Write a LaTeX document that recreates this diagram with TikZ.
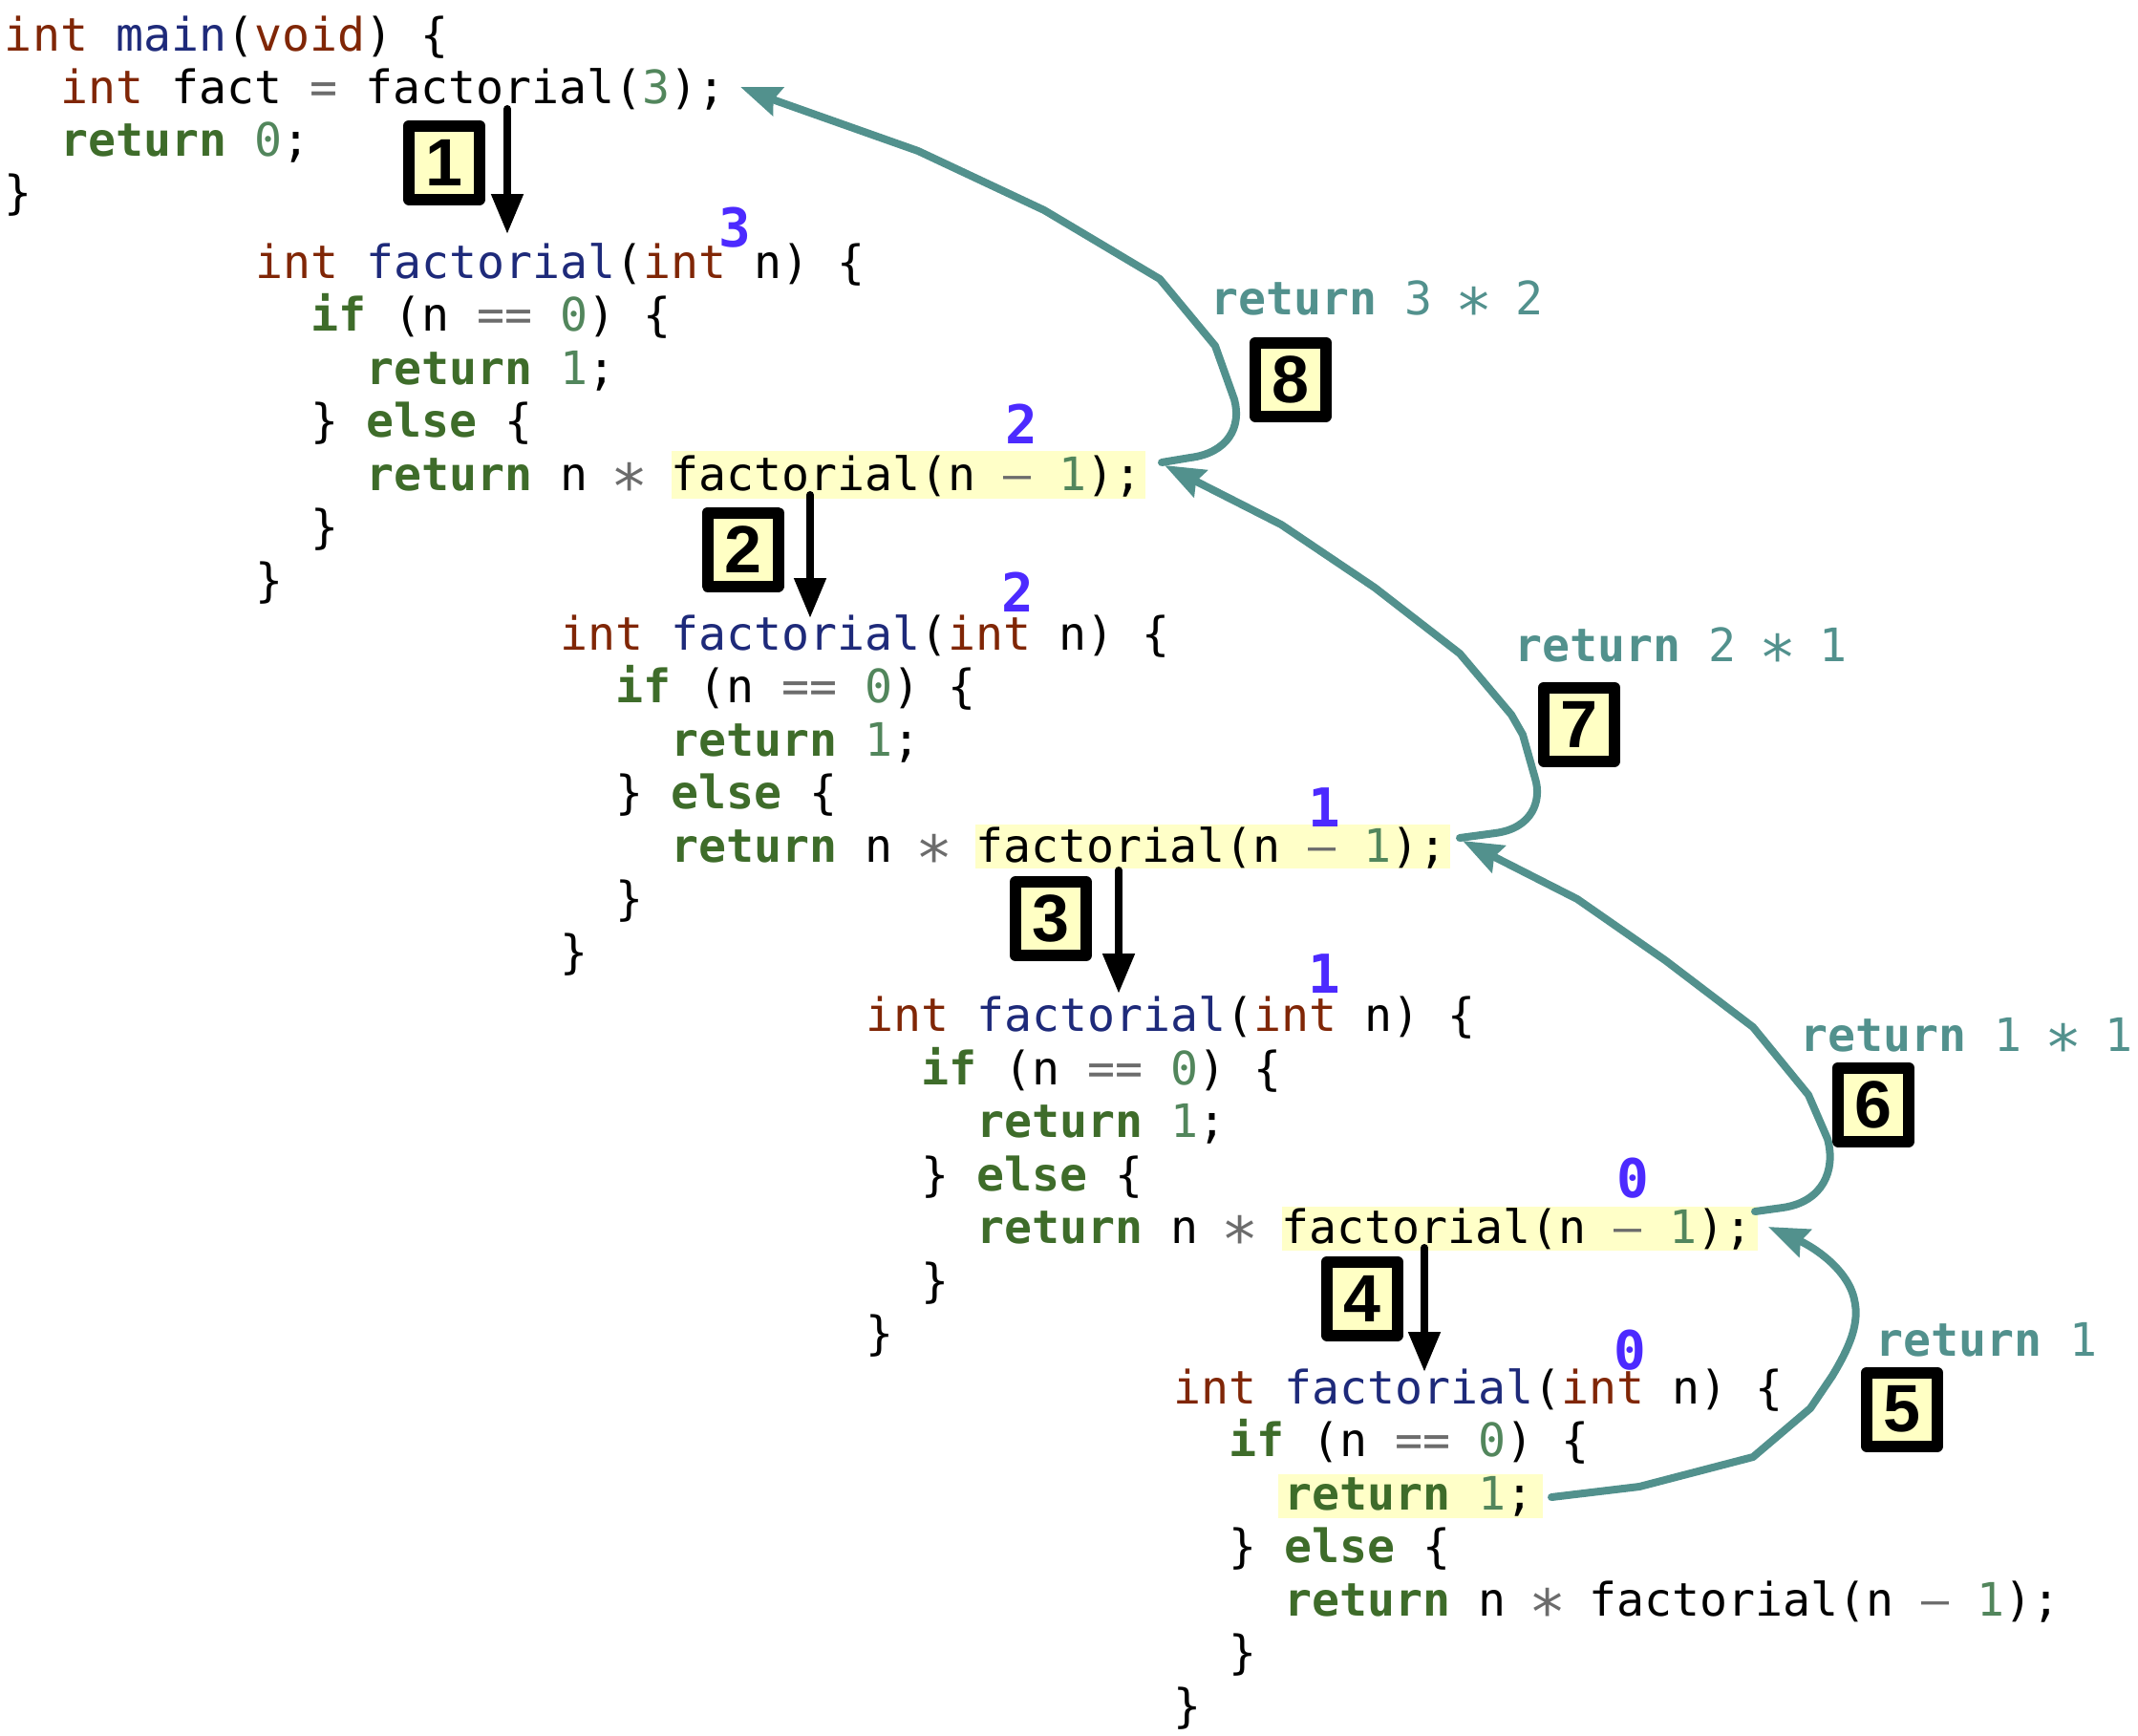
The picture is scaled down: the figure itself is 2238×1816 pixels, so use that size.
\documentclass[tikz,border=0pt]{standalone}
\usepackage{fontspec}
\usetikzlibrary{arrows.meta}
\newfontfamily\codefont{DejaVu Sans Mono}
\newfontfamily\boxfont{Liberation Sans}
\definecolor{cType}{RGB}{128,38,6}
\definecolor{cFn}{RGB}{30,42,122}
\definecolor{cKw}{RGB}{62,108,42}
\definecolor{cNum}{RGB}{82,134,92}
\definecolor{cOp}{RGB}{108,108,108}
\definecolor{cTeal}{RGB}{82,145,141}
\definecolor{cLbl}{RGB}{76,42,255}
\definecolor{cHi}{RGB}{255,255,200}
\definecolor{cBox}{RGB}{255,255,196}
\newcommand\Ty[1]{\textcolor{cType}{#1}}
\newcommand\Fn[1]{\textcolor{cFn}{#1}}
\newcommand\Kw[1]{\textcolor{cKw}{\bfseries #1}}
\newcommand\Nm[1]{\textcolor{cNum}{#1}}
\newcommand\Op[1]{\textcolor{cOp}{#1}}
\newcommand\Ast{\makebox[0.60205em]{\raisebox{-0.13em}{\scalebox{1.35}{∗}}}}
\newcommand\codesize{\fontsize{48.2pt}{55.5pt}\selectfont}
\newcommand\fblock[3]{%
  \node[code] (#1a) at (#2,#3) {\Ty{int}\ \Fn{factorial}(\Ty{int}\ n)\ \{};
  \node[code] (#1b) at ({#2+58},{#3+55.5}) {\Kw{if}\ (n\ \Op{==}\ \Nm{0})\ \{};
  \node[code] (#1c) at ({#2+116},{#3+111}) {\Kw{return}\ \Nm{1};};
  \node[code] (#1d) at ({#2+58},{#3+166.5}) {\}\ \Kw{else}\ \{};
  \node[code] (#1e) at ({#2+116},{#3+222}) {\Kw{return}\ n\ \Op{\Ast}\ factorial(n\ \Op{–}\ \Nm{1});};
  \node[code] (#1f) at ({#2+58},{#3+277.5}) {\}};
  \node[code] (#1g) at (#2,{#3+333}) {\}};
}
\tikzset{
  code/.style={anchor=base west, inner sep=0pt, outer sep=0pt, font=\codefont\codesize},
  lbl/.style={anchor=base, inner sep=0pt, text=cLbl, font=\codefont\bfseries\fontsize{56pt}{60pt}\selectfont},
  retlbl/.style={anchor=base west, inner sep=0pt, text=cTeal, font=\codefont\codesize},
  numbox/.style={draw=black, line width=12pt, line join=round, fill=cBox, minimum width=74pt, minimum height=77pt, inner sep=0pt, font=\boxfont\bfseries\fontsize{70pt}{70pt}\selectfont},
  callarrow/.style={draw=black, line width=8pt, line cap=round, -{Triangle[length=42pt,width=32pt]}},
  retarrow/.style={draw=cTeal, line width=8pt, line cap=round, line join=round, -{Stealth[length=42pt,width=31pt,inset=5pt]}},
}
\begin{document}
\begin{tikzpicture}[x=1pt,y=-1pt]
\useasboundingbox (0,0) rectangle (2238,1816);
% highlights
\fill[cHi] (703,472) rectangle (1199,522);
\fill[cHi] (1021,863) rectangle (1518,909);
\fill[cHi] (1342,1263) rectangle (1840,1309);
\fill[cHi] (1338,1543) rectangle (1615,1589);
% main
\node[code] (m0) at (5,53.5) {\Ty{int}\ \Fn{main}(\Ty{void})\ \{};
\node[code] (m1) at (63,108.5) {\Ty{int}\ fact\ \Op{=}\ factorial(\Nm{3});};
\node[code] (m2) at (63,163.5) {\Kw{return}\ \Nm{0};};
\node[code] (m3) at (5,218.5) {\}};
% factorial frames
\fblock{fa}{267}{291}
\fblock{fb}{586}{680}
\fblock{fc}{906}{1079.5}
\fblock{fd}{1228}{1469}
% argument labels
\node[lbl] (n3) at (769,258) {3};
\node[lbl] (n2a) at (1069,464.5) {2};
\node[lbl] (n2b) at (1065.5,640.5) {2};
\node[lbl] (n1a) at (1386,865) {1};
\node[lbl] (n1b) at (1386,1039) {1};
\node[lbl] (n0a) at (1709,1253) {0};
\node[lbl] (n0b) at (1706,1433) {0};
% return labels
\node[retlbl] (r8) at (1267,329.5) {\textbf{return}\ 3\ \Ast\ 2};
\node[retlbl] (r7) at (1585,692) {\textbf{return}\ 2\ \Ast\ 1};
\node[retlbl] (r6) at (1884,1100) {\textbf{return}\ 1\ \Ast\ 1};
\node[retlbl] (r5) at (1963,1419) {\textbf{return}\ 1};
% step boxes
\node[numbox] (b1) at (465,170) {1};
\node[numbox] (b2) at (777.5,575) {2};
\node[numbox] (b3) at (1100,961.5) {3};
\node[numbox] (b4) at (1426,1359) {4};
\node[numbox] (b5) at (1991,1475) {5};
\node[numbox] (b6) at (1961,1156) {6};
\node[numbox] (b7) at (1653,758) {7};
\node[numbox] (b8) at (1351,397) {8};
% call arrows
\coordinate (c1s) at (531,114); \coordinate (c1e) at (531,245);
\coordinate (c2s) at (848,518); \coordinate (c2e) at (848,647);
\coordinate (c3s) at (1171,911); \coordinate (c3e) at (1171,1040);
\coordinate (c4s) at (1491,1306); \coordinate (c4e) at (1491,1436);
\draw[callarrow] (c1s) -- (c1e);
\draw[callarrow] (c2s) -- (c2e);
\draw[callarrow] (c3s) -- (c3e);
\draw[callarrow] (c4s) -- (c4e);
% return arrows
\coordinate (s5) at (1624,1567); \coordinate (e5) at (1851,1284);
\coordinate (s6) at (1837,1268); \coordinate (e6) at (1531,880);
\coordinate (s7) at (1528,877); \coordinate (e7) at (1219,487);
\coordinate (s8) at (1216,484); \coordinate (e8) at (775,91);
\draw[retarrow] (s5) -- (1716,1556) -- (1835,1525) -- (1895,1474) -- (1918,1440) .. controls (1936,1410) and (1947,1385) .. (1941,1360) .. controls (1934,1328) and (1898,1305) .. (e5);
\draw[retarrow] (s6) -- (1866,1264) .. controls (1908,1258) and (1922,1225) .. (1913,1192) -- (1893,1146) -- (1835,1075) -- (1743,1005) -- (1651,941) -- (e6);
\draw[retarrow] (s7) -- (1565,872) .. controls (1604,867) and (1614,838) .. (1607,815) -- (1594,769) -- (1582,748) -- (1528,684) -- (1439,615) -- (1341,549) -- (e7);
\draw[retarrow] (s8) -- (1246,479) .. controls (1285,474) and (1300,447) .. (1292,418) -- (1272,362) -- (1214,292) -- (1093,220) -- (961,158) -- (814,106) -- (e8);
\end{tikzpicture}
\end{document}
